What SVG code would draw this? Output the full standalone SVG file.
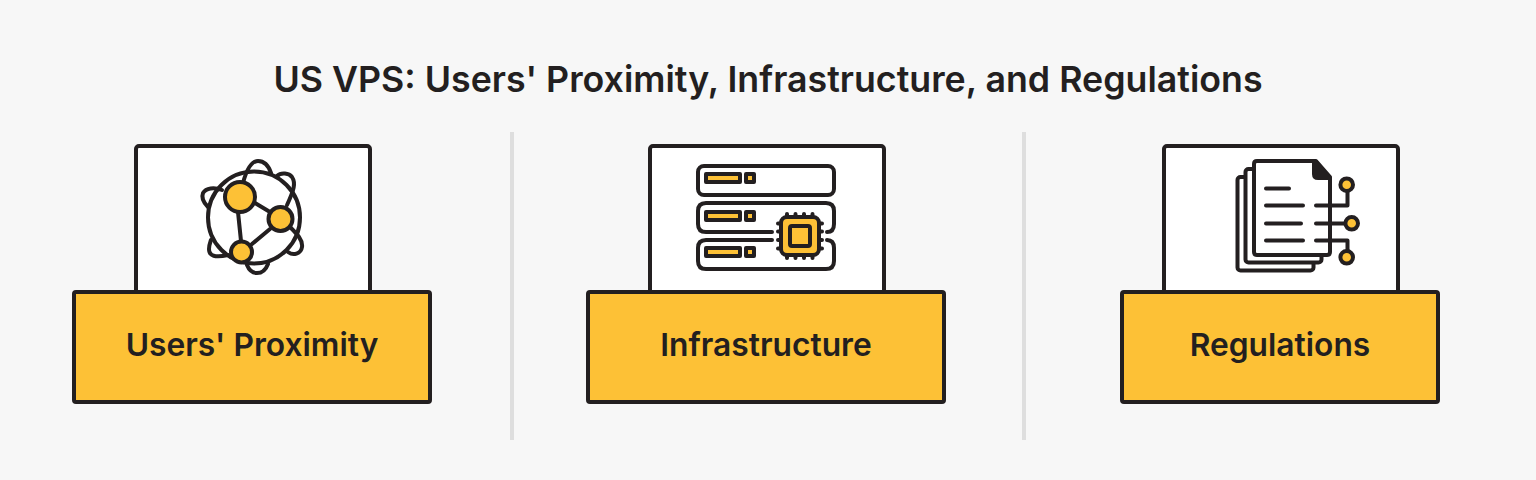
<svg xmlns="http://www.w3.org/2000/svg" width="1536" height="480" viewBox="0 0 1536 480">
<style>
.card{fill:#fff;stroke:#231f20;stroke-width:4}
.label{fill:#fdc136;stroke:#231f20;stroke-width:4}
.ln{fill:none;stroke:#231f20;stroke-width:4;stroke-linecap:round;stroke-linejoin:round}
.y{fill:#fdc136;stroke:#231f20;stroke-width:4;stroke-linejoin:round}
.w{fill:#fff;stroke:#231f20;stroke-width:4;stroke-linejoin:round}
.div{fill:#dedede}
text{font-family:Inter,"Liberation Sans",sans-serif;font-weight:600;fill:#231f20;text-anchor:middle}
.t{font-size:35.75px}
.l{font-size:31.75px}
</style>
<rect width="1536" height="480" fill="#f7f7f7"/>
<text id="title" class="t" x="768" y="92">US VPS: Users' Proximity, Infrastructure, and Regulations</text>
<g id="dividers">
<rect class="div" x="510" y="132" width="4" height="308"/>
<rect class="div" x="1022" y="132" width="4" height="308"/>
</g>
<g id="node-proximity">
<rect class="card" x="136" y="146" width="234" height="150" rx="3"/>
<g id="icon-globe">
<path class="ln" d="M243 183C247 168 252 161 258 161C265 161 269 167 271 173"/>
<path class="ln" d="M277 176C281 172 289 173 292 177C296 183 294 190 287 205"/>
<path class="ln" d="M290 227C297 234 303 240 302 247C301 254 293 256 288 252"/>
<path class="ln" d="M268 264C265 272 261 273 257 273C252 273 249 270 247 265"/>
<path class="ln" d="M228 255C215 258 209 256 209 249C209 245 210 243 211 240"/>
<path class="ln" d="M222 190C214 187 206 188 203 193C201 198 204 203 208 207"/>
<circle class="ln" cx="254" cy="217.500" r="46"/>
<path class="ln" d="M255 203L270 212M238 212L241 241M270 229L252 244"/>
<circle class="y" cx="240" cy="197" r="15"/>
<circle class="y" cx="280.500" cy="219" r="12"/>
<circle class="y" cx="241.500" cy="252" r="10.500"/>
</g>
<rect class="label" x="74" y="292" width="356" height="110" rx="2"/>
<text class="l" x="252" y="356">Users' Proximity</text>
</g>
<g id="node-infrastructure">
<rect class="card" x="650" y="146" width="234" height="150" rx="3"/>
<g id="icon-server">
<rect class="ln" x="698" y="166" width="136" height="29" rx="6"/>
<path class="ln" d="M772 232H706Q698 232 698 224V211Q698 203 706 203H826Q834 203 834 211V224Q834 232 827 232"/>
<path class="ln" d="M772 240H706Q698 240 698 248V261Q698 269 706 269H826Q834 269 834 261V248Q834 240 827 240"/>
<rect class="y" x="706" y="174" width="34" height="8"/><rect class="y" x="746" y="174" width="8" height="8"/>
<rect class="y" x="706" y="212" width="34" height="8"/><rect class="y" x="746" y="212" width="8" height="8"/>
<rect class="y" x="706" y="248" width="34" height="8"/><rect class="y" x="746" y="248" width="8" height="8"/>
<path class="ln" d="M787 214V216M795.500 214V216M804 214V216M812.500 214V216M787 256V258M795.500 256V258M804 256V258M812.500 256V258M778 223.500H780M778 231.500H780M778 240H780M778 248.500H780M820 223.500H822M820 231.500H822M820 240H822M820 248.500H822"/>
<rect class="y" x="781" y="217" width="38" height="38" rx="6"/>
<rect class="y" x="790" y="226" width="20" height="20" rx="2"/>
</g>
<rect class="label" x="588" y="292" width="356" height="110" rx="2"/>
<text class="l" x="766" y="356">Infrastructure</text>
</g>
<g id="node-regulations">
<rect class="card" x="1164" y="146" width="234" height="150" rx="3"/>
<g id="icon-docs">
<rect class="w" x="1237.500" y="177" width="76" height="93.500" rx="3"/>
<rect class="w" x="1245.500" y="169" width="76" height="93.500" rx="3"/>
<path class="w" d="M1257 161H1316L1330 177V252Q1330 255 1327 255H1257Q1254 255 1254 252V164Q1254 161 1257 161Z"/>
<path d="M1312 160H1317L1331 177V180H1318Q1312 180 1312 174Z" fill="#231f20"/>
<path class="ln" d="M1266 188.500H1289M1266 205.500H1303M1266 223.500H1301M1266 240.500H1303"/>
<path class="ln" d="M1316 205.500H1347.500V191M1316 223.500H1345M1316 240.500H1347.500V251"/>
<circle class="y" cx="1346.700" cy="184.700" r="6.300"/>
<circle class="y" cx="1351.700" cy="223.300" r="6.300"/>
<circle class="y" cx="1346.700" cy="257.300" r="6.300"/>
</g>
<rect class="label" x="1122" y="292" width="316" height="110" rx="2"/>
<text class="l" x="1280" y="356">Regulations</text>
</g>
<g id="connectors"/>
</svg>
